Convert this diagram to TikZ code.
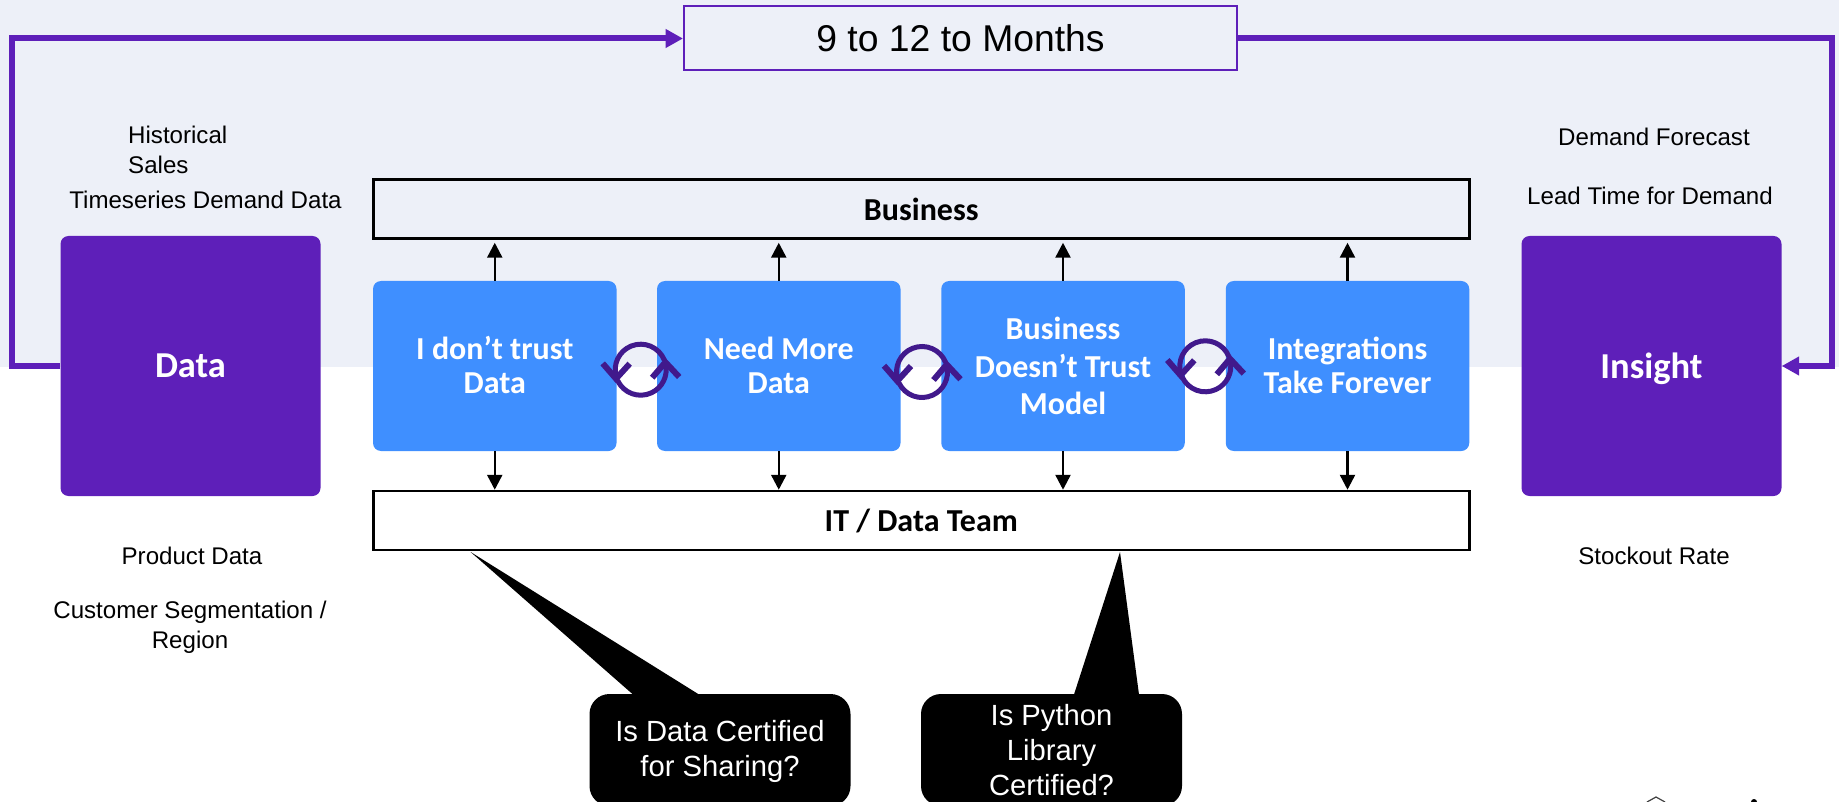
\documentclass[tikz,border=0pt]{standalone}
\usepackage{fontspec}
\setmainfont{Liberation Sans}
\newfontfamily\carl{Carlito}
\usetikzlibrary{arrows.meta}
\definecolor{bgpale}{HTML}{EDF0F8}
\definecolor{purp}{HTML}{5E1FB9}
\definecolor{cyc}{HTML}{41198C}
\definecolor{bluebox}{HTML}{3F8FFF}
\tikzset{
  x=1pt,y=-1pt,
  bigbox/.style={fill=purp,rounded corners=8pt,minimum width=260pt,minimum height=260pt,inner sep=0pt,text=white,font=\carl\bfseries\fontsize{36.5}{38}\selectfont},
  task/.style={fill=bluebox,rounded corners=8pt,minimum width=243.5pt,minimum height=170pt,inner sep=0pt,text=white,align=center},
  tasktext/.style={inner sep=0pt,text=white,align=center},
  bar/.style={draw=black,line width=2.5pt,minimum width=1096pt,minimum height=59pt,inner sep=0pt,font=\carl\bfseries\fontsize{32}{34}\selectfont},
  lab/.style={inner sep=0pt,font=\fontsize{24.1}{29.5}\selectfont},
  callout/.style={fill=black,rounded corners=20pt,minimum width=261pt,minimum height=112pt,inner sep=0pt},
  callouttext/.style={text=white,align=center,font=\fontsize{29.2}{35}\selectfont,inner sep=0pt},
  thin arrow/.style={draw=black,line width=2.5pt,-{Triangle[length=15pt,width=15pt]}},
  flow/.style={draw=purp,line width=6pt,miter limit=10},
  pics/cycle mark/.style={code={
    \draw[cyc,line width=5pt,x=1pt,y=1pt] (22:25.5pt) arc[start angle=22,end angle=197,radius=25.5pt];
    \draw[cyc,line width=5pt,x=1pt,y=1pt] (205:25.5pt) arc[start angle=205,end angle=372,radius=25.5pt];
    \draw[cyc,line width=6pt,x=1pt,y=1pt,miter limit=10] (-38,6.3) -- (-24.7,-9) -- (-11,6);
    \draw[cyc,line width=6pt,x=1pt,y=1pt,miter limit=10] (38.5,-7.3) -- (24.7,7.5) -- (11.5,-8);
  }}
}
\begin{document}
\begin{tikzpicture}
\useasboundingbox (0,0) rectangle (1839,802);
\clip (0,0) rectangle (1839,802);
\fill[bgpale] (0,0) rectangle (1839,367);

\node[draw=purp,line width=2pt,fill=bgpale,minimum width=553pt,minimum height=64pt,inner sep=0pt,font=\fontsize{37.3}{40}\selectfont] (top) at (960.5,38.5) {9 to 12 to Months};

\coordinate (lc) at (12.4,38.5);
\coordinate (rc) at (1832,38.5);
\node[bigbox] (data) at (190.5,366) {Data};
\node[bigbox,text depth=0pt] (insight) at (1651.5,366) {Insight};
\draw[flow,-{Triangle[length=17.5pt,width=18pt]}] (data.west) -| (lc) -- (top.west);
\draw[flow,-{Triangle[length=17.5pt,width=18pt]}] (top.east) -- (rc) |- (insight.east);

\node[bar] (biz) at (921.25,209) {Business};
\node[bar] (it) at (921.25,520.5) {IT / Data Team};

\node[task] (t1) at (494.75,366) {};
\node[task] (t2) at (778.75,366) {};
\node[task] (t3) at (1063,366) {};
\node[task] (t4) at (1347.5,366) {};
\node[tasktext,font=\carl\bfseries\fontsize{32}{34}\selectfont] (t1t) at (494.75,365) {I don’t trust\\Data};
\node[tasktext,font=\carl\bfseries\fontsize{32}{34.5}\selectfont] (t2t) at (778.75,365.5) {Need More\\Data};
\node[tasktext,font=\carl\bfseries\fontsize{32}{37.5}\selectfont] (t3t) at (1063,366) {Business\\Doesn’t Trust\\Model};
\node[tasktext,font=\carl\bfseries\fontsize{32}{34.5}\selectfont] (t4t) at (1347.5,365.5) {Integrations\\Take Forever};

\foreach \t in {t1,t2,t3,t4}{
  \draw[thin arrow,shorten >=3pt] (\t.north) -- (\t.north |- biz.south);
  \draw[thin arrow] (\t.south) -- (\t.south |- it.north);
}

\pic at (640.7,369.7) {cycle mark};
\pic at (922,372) {cycle mark};
\pic at (1205.3,366.3) {cycle mark};

\node[lab,anchor=west,align=left] (hist) at (128,150) {Historical\\Sales};
\node[lab] (ts) at (205.5,200) {Timeseries Demand Data};
\node[lab] (prod) at (192,556) {Product Data};
\node[lab,align=center] (seg) at (190,627.5) {Customer Segmentation /\\Region};
\node[lab] (df) at (1654,137) {Demand Forecast};
\node[lab] (lt) at (1650,196) {Lead Time for Demand};
\node[lab] (so) at (1654,556) {Stockout Rate};

\coordinate (tip1) at (470.6,552);
\coordinate (tip2) at (1120,552);
\coordinate (c1a) at (633,694.5);
\coordinate (c1b) at (699,694.5);
\coordinate (c2a) at (1074,694.5);
\coordinate (c2b) at (1139,694.5);
\node[callout] (c1) at (720,750) {};
\node[callout] (c2) at (1051.5,750) {};
\fill[black] (tip1) -- (c1a) -- (c1b) -- cycle;
\fill[black] (tip2) -- (c2a) -- (c2b) -- cycle;
\node[callouttext] (c1t) at (720,751) {Is Data Certified\\for Sharing?};
\node[callouttext] (c2t) at (1051.5,750) {Is Python\\Library\\Certified?};

\draw[black!75,line width=1.2pt] (1647,802) -- (1656,797) -- (1665,802);
\fill[black] (1754,802) circle (3pt);
\end{tikzpicture}
\end{document}
